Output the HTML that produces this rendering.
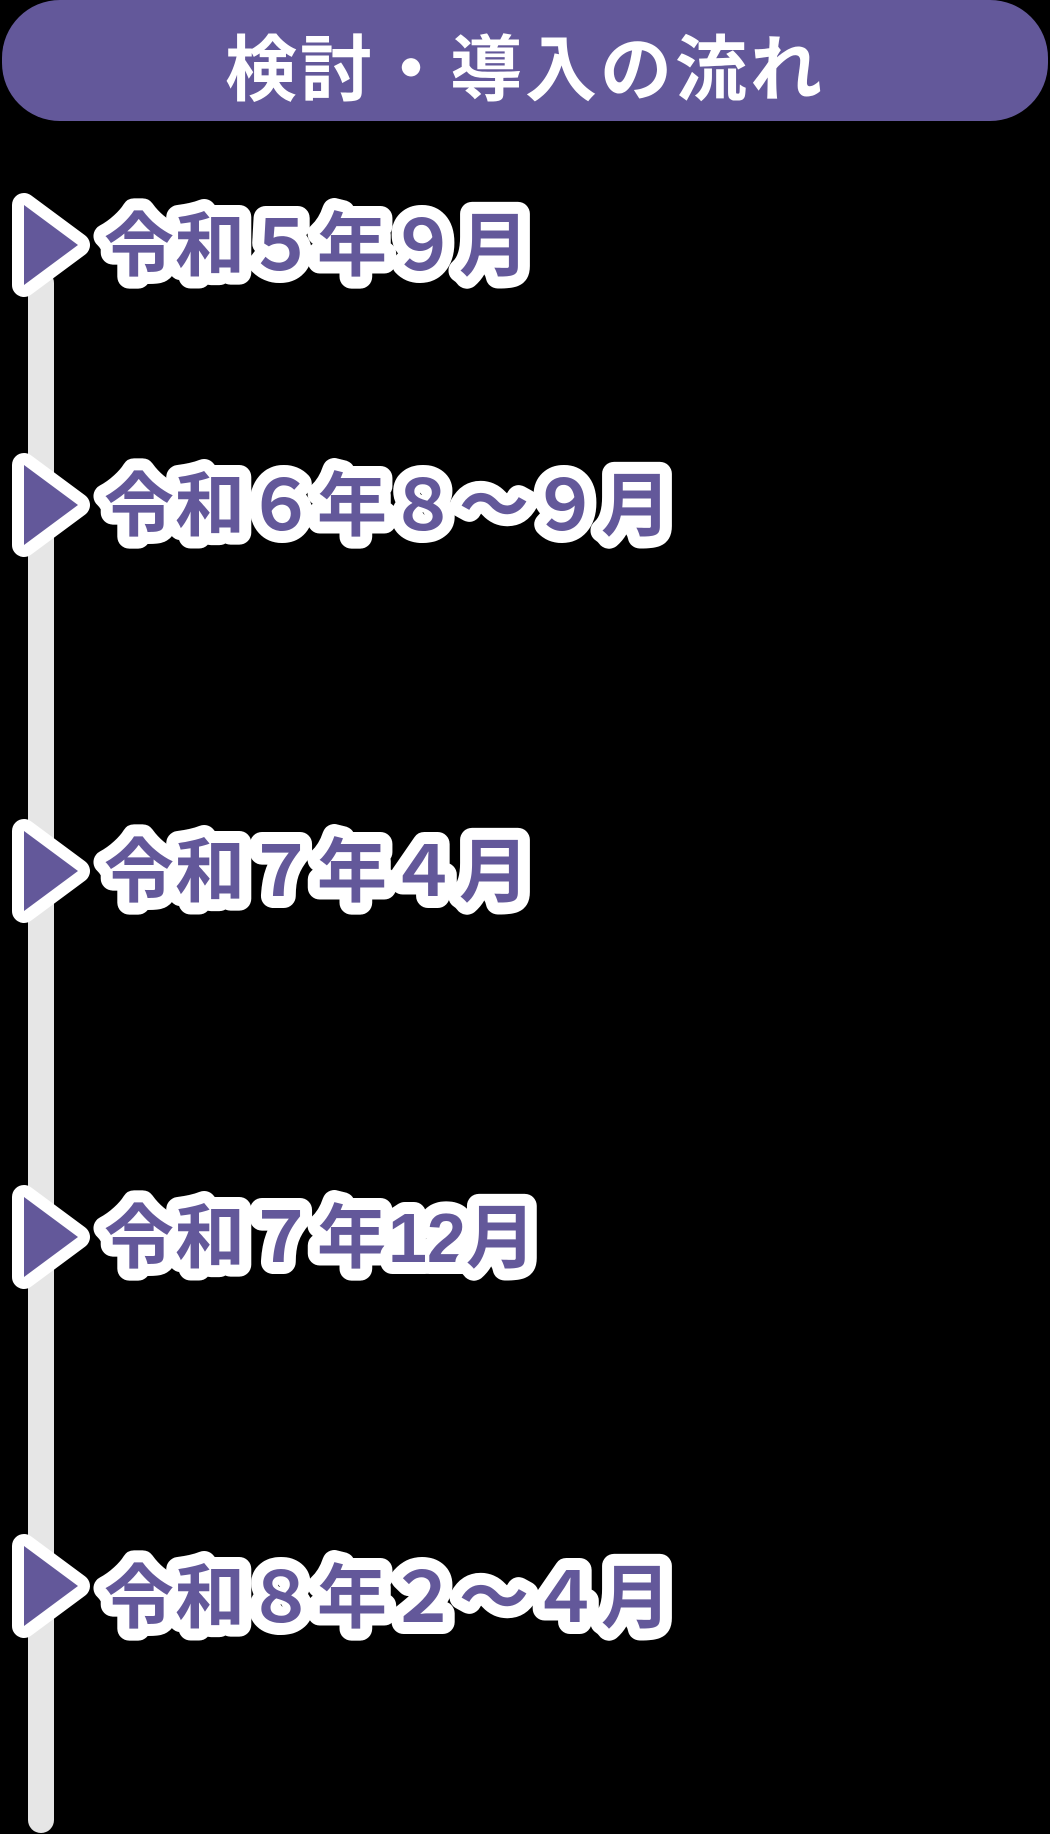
<!DOCTYPE html>
<html><head><meta charset="utf-8"><style>
html,body{margin:0;padding:0;background:#000;}
svg{display:block;}
text{font-family:"Liberation Sans","Noto Sans CJK JP",sans-serif;font-weight:bold;}
</style></head><body>
<svg width="1050" height="1834" viewBox="0 0 1050 1834" xmlns="http://www.w3.org/2000/svg">
<rect width="1050" height="1834" fill="#000"/>
<rect x="2" y="0" width="1046" height="121" rx="58" fill="#63589a"/>
<text x="525" y="95" text-anchor="middle" font-size="72" fill="#fff" letter-spacing="3">検討・導入の流れ</text>
<rect x="28" y="270" width="26" height="1563" rx="13" fill="#e6e6e6"/>
<g stroke="#fff" stroke-width="24" stroke-linejoin="round" paint-order="stroke" fill="#63589a">
<polygon points="24,205 78,245 24,285"/>
<text x="104" y="270" font-size="70" letter-spacing="1">令和５年９月</text>
<polygon points="24,465 78,505 24,545"/>
<text x="104" y="530" font-size="70" letter-spacing="1">令和６年８〜９月</text>
<polygon points="24,831 78,871 24,911"/>
<text x="104" y="896" font-size="70" letter-spacing="1">令和７年４月</text>
<polygon points="24,1197 78,1237 24,1277"/>
<text x="104" y="1262" font-size="70" letter-spacing="1">令和７年<tspan letter-spacing="0">12</tspan>月</text>
<polygon points="24,1546 78,1586 24,1626"/>
<text x="104" y="1622" font-size="70" letter-spacing="1">令和８年２〜４月</text>
</g>
</svg>
</body></html>
